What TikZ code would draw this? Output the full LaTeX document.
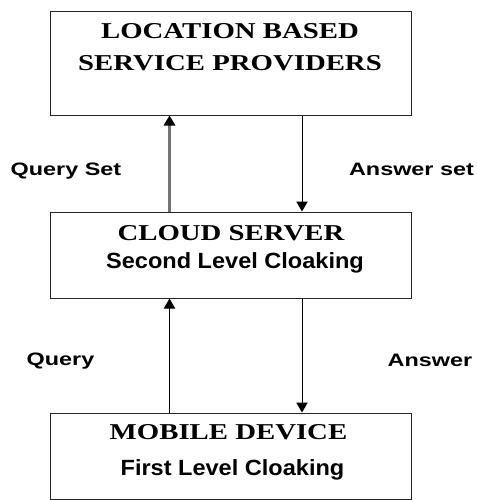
\documentclass[tikz,border=0pt]{standalone}
\usepackage{fontspec}
\usetikzlibrary{arrows.meta}
\newfontfamily\titlefont[FakeStretch=1.27]{Liberation Serif}
\newfontfamily\subfont[FakeStretch=1.07]{Liberation Sans}
\newfontfamily\labfont[FakeStretch=1.3]{Liberation Sans}
\tikzset{
  box/.style={draw=black!85, line width=0.75pt, minimum width=270.75pt, inner sep=0pt},
  title/.style={anchor=base, font=\titlefont\fontsize{17}{20}\selectfont\bfseries},
  sub/.style={anchor=base, font=\subfont\fontsize{16.5}{19}\selectfont\bfseries},
  lab/.style={anchor=base, font=\labfont\fontsize{13.5}{16}\selectfont\bfseries},
  flow/.style={line width=0.75pt, -{Triangle[width=8.5pt,length=7.5pt,black]}}
}
\begin{document}
\begin{tikzpicture}[x=0.75pt, y=-0.75pt]
    \useasboundingbox (0,0) rectangle (477,500);
    % Les trois boites
    \node[box, minimum height=78pt] (lbs) at (230.5,63) {};
    \node[box, minimum height=64.5pt] (cloud) at (230.5,255) {};
    \node[box, minimum height=64.5pt] (mobile) at (230.5,456) {};

    % Textes des boites
    \node[title] (lbs1) at (230,38) {LOCATION BASED};
    \node[title] (lbs2) at (230,70) {SERVICE PROVIDERS};
    \node[title] (cloud1) at (231,240.5) {CLOUD SERVER};
    \node[sub] (cloud2) at (235,268) {Second Level Cloaking};
    \node[title] (mobile1) at (228.5,439) {MOBILE DEVICE};
    \node[sub] (mobile2) at (232.5,475) {First Level Cloaking};

    % Etiquettes des fleches
    \node[lab] (qset) at (66,175) {Query Set};
    \node[lab] (aset) at (411.5,175) {Answer set};
    \node[lab] (q) at (60.5,365.5) {Query};
    \node[lab] (a) at (430,366.5) {Answer};

    % Fleches
    \coordinate (up) at (169.5,0);
    \coordinate (down) at (302,0);
    \draw[flow, draw=black!55, line width=1.6pt] (cloud.north -| up) -- (lbs.south -| up);
    \draw[flow] (lbs.south -| down) -- (cloud.north -| down);
    \draw[flow] (mobile.north -| up) -- (cloud.south -| up);
    \draw[flow] (cloud.south -| down) -- (mobile.north -| down);
\end{tikzpicture}
\end{document}
